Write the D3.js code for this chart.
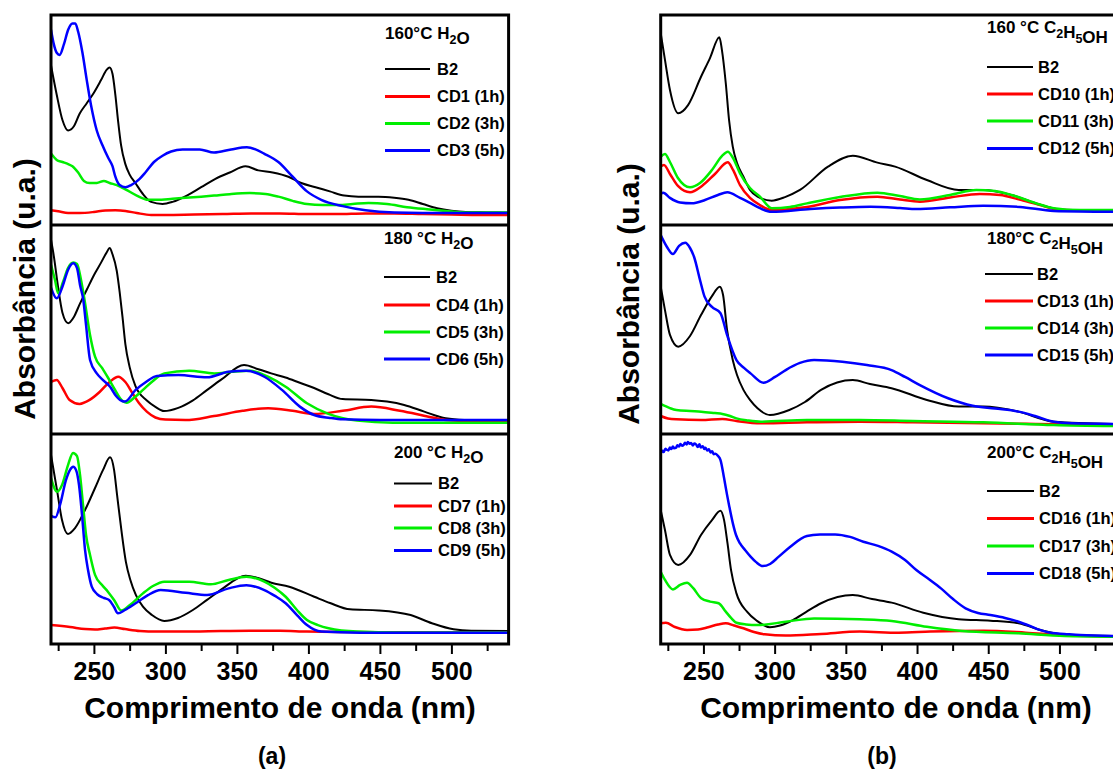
<!DOCTYPE html>
<html>
<head>
<meta charset="utf-8">
<script src="https://cdn.jsdelivr.net/npm/d3@7"></script>
<style>
  body { margin: 0; background: #fff; }
  svg { display: block; }
  text { font-family: "Liberation Sans", Arial, Helvetica, sans-serif; font-weight: bold; fill: #000; }
</style>
</head>
<body>
<svg id="chart" width="1113" height="769"></svg>
<script>
// UV-Vis absorbance spectra, [wavelength (nm), absorbance (a.u.)]

// ---- (a) H2O, 160 °C ----
const B2_H2O_160 = [[220,.76],[224,.62],[228,.50],[232,.45],[236,.47],[240,.53],[245,.58],[250,.63],[255,.69],[259,.74],[261,.75],[263,.72],[265,.62],[267,.49],[269,.38],[272,.29],[275,.24],[279,.20],[284,.15],[290,.11],[298,.10],[305,.11],[315,.14],[325,.18],[335,.22],[345,.25],[356,.28],[365,.26],[375,.25],[386,.23],[395,.20],[405,.18],[415,.16],[425,.14],[435,.135],[449,.135],[460,.13],[470,.12],[480,.10],[490,.08],[500,.068],[510,.062],[525,.06],[540,.058]];
const CD1 = [[220,.07],[225,.065],[232,.057],[240,.057],[250,.062],[258,.069],[265,.07],[272,.067],[280,.057],[290,.048],[300,.048],[320,.05],[340,.052],[360,.055],[380,.055],[400,.052],[420,.052],[440,.055],[460,.055],[480,.052],[500,.05],[520,.048],[540,.048]];
const CD2 = [[220,.34],[224,.31],[228,.30],[232,.29],[235,.28],[239,.25],[243,.21],[247,.20],[252,.20],[257,.21],[261,.20],[266,.19],[272,.17],[280,.14],[288,.12],[294,.12],[305,.125],[314,.13],[325,.135],[334,.14],[345,.147],[359,.152],[370,.148],[379,.135],[389,.115],[399,.10],[410,.095],[421,.095],[431,.10],[442,.105],[455,.10],[469,.085],[483,.075],[496,.067],[510,.06],[540,.06]];
const CD3 = [[220,.93],[222,.86],[224,.82],[226,.81],[229,.86],[232,.93],[235,.96],[237,.96],[239,.92],[242,.82],[245,.69],[248,.57],[252,.45],[256,.38],[260,.32],[263,.28],[265,.23],[268,.19],[272,.18],[276,.19],[282,.22],[286,.25],[292,.30],[298,.33],[304,.35],[312,.36],[324,.36],[334,.345],[346,.36],[357,.37],[363,.36],[369,.34],[379,.30],[389,.23],[399,.16],[409,.12],[424,.09],[440,.07],[460,.06],[500,.057],[540,.057]];

// ---- (a) H2O, 180 °C ----
const B2_H2O_180 = [[220,.93],[222,.85],[225,.70],[228,.58],[232,.53],[236,.56],[240,.62],[245,.69],[250,.76],[255,.82],[259,.87],[261,.89],[263,.86],[266,.78],[268,.68],[270,.56],[272,.43],[275,.32],[279,.23],[287,.16],[293,.13],[299,.11],[309,.125],[319,.16],[329,.21],[339,.26],[355,.33],[365,.31],[374,.29],[384,.27],[394,.245],[404,.22],[414,.19],[424,.167],[444,.163],[455,.155],[467,.139],[481,.107],[496,.075],[509,.067],[540,.064]];
const CD4 = [[220,.25],[224,.258],[228,.22],[233,.163],[240,.144],[247,.163],[254,.201],[261,.249],[267,.274],[272,.249],[277,.195],[281.5,.148],[287,.107],[293,.079],[300,.069],[314,.067],[334,.086],[354,.111],[372,.123],[389,.111],[404,.096],[424,.111],[444,.131],[464,.111],[484,.083],[496,.067],[509,.062],[540,.059]];
const CD5 = [[220,.81],[222.8,.737],[225,.673],[228.4,.727],[231.9,.794],[235.6,.82],[238.2,.813],[241,.737],[243.8,.627],[247.3,.474],[250.8,.37],[255.7,.316],[260,.268],[264.8,.211],[268.3,.171],[272.9,.15],[278.7,.177],[284.3,.211],[291.3,.254],[299.2,.29],[316.7,.303],[334.2,.29],[346.6,.298],[359.2,.303],[371.7,.274],[384.1,.226],[399,.147],[414,.096],[434,.064],[459,.054],[540,.054]];
const CD6 = [[220,.70],[224,.649],[228.4,.713],[231.9,.785],[235.6,.817],[238.2,.794],[240.3,.713],[242.6,.641],[244.5,.522],[247.3,.354],[252,.29],[256.4,.258],[261.3,.226],[265.5,.182],[268.3,.163],[271.7,.155],[279.2,.211],[286.4,.249],[294.1,.278],[309.2,.282],[329.1,.271],[344.2,.298],[356.6,.303],[369.2,.274],[381.5,.211],[394,.131],[404,.091],[415,.077],[424,.07],[450,.067],[540,.067]];

// ---- (a) H2O, 200 °C ----
const B2_H2O_200 = [[220,.90],[224.2,.733],[227.7,.59],[231.8,.524],[236.8,.552],[243.8,.638],[250.8,.743],[256.4,.829],[261.3,.889],[264.1,.829],[266.2,.71],[269.2,.543],[272.4,.39],[275.5,.305],[279.4,.233],[284.3,.178],[290.6,.138],[299.2,.11],[308.8,.124],[319.2,.162],[329.1,.21],[339.2,.26],[356.2,.325],[364.8,.314],[374.1,.292],[386.6,.273],[404.1,.225],[415.1,.195],[429.1,.165],[449.1,.16],[471.5,.138],[486.4,.099],[501.5,.07],[514,.063],[540,.062]];
const CD7 = [[220,.09],[233.3,.081],[243.8,.071],[250.8,.069],[257.8,.074],[264.3,.078],[271.7,.071],[282.2,.062],[294.1,.059],[324.2,.06],[359.2,.063],[380.1,.063],[399,.059],[429.1,.057],[464,.056],[540,.055]];
const CD8 = [[220,.79],[224.3,.725],[227.7,.757],[231.9,.852],[235.4,.91],[238.2,.895],[240.3,.805],[242.4,.662],[244.5,.519],[247.3,.424],[250.8,.329],[255.7,.281],[259.9,.248],[264.1,.21],[269.2,.159],[275.2,.186],[284.3,.241],[291.3,.276],[299.2,.297],[316.7,.297],[331.7,.284],[344.2,.305],[356.6,.32],[369.2,.297],[376.6,.267],[384.1,.225],[392,.162],[399,.114],[406.7,.09],[414.1,.075],[434,.059],[464,.055],[540,.055]];
const CD9 = [[220,.61],[223.1,.603],[226.3,.662],[230.5,.781],[233.3,.829],[235.5,.844],[237.5,.829],[239.6,.757],[241.7,.614],[243.8,.448],[245.9,.352],[248.5,.273],[252.2,.238],[257.1,.219],[260.6,.21],[264.1,.176],[266.8,.146],[271.7,.162],[279.2,.194],[287.8,.233],[296.7,.257],[314.2,.244],[329.1,.233],[344.2,.265],[356.6,.28],[369.2,.257],[376.6,.229],[384.1,.194],[392,.138],[399,.09],[409.1,.059],[436,.054],[540,.054]];

// ---- (b) C2H5OH, 160 °C ----
const B2_EtOH_160 = [[220,.913],[223,.786],[226.5,.643],[232.3,.532],[239.2,.571],[248.3,.706],[254.6,.795],[261.2,.894],[263,.833],[265.7,.675],[268,.50],[270.6,.373],[273.6,.295],[278.1,.23],[282.7,.167],[288,.135],[297.9,.116],[307.3,.133],[317.8,.167],[337.5,.278],[354.9,.33],[372.2,.297],[384.6,.278],[406.9,.214],[429.2,.167],[446.5,.167],[466.4,.143],[483.7,.103],[501,.074],[518,.071],[540,.069]];
const CD10 = [[220,.278],[222.3,.286],[226.5,.243],[232.1,.186],[240.6,.156],[249,.186],[258.1,.243],[267.1,.299],[270.8,.262],[275.7,.19],[282.7,.129],[289.7,.095],[297.9,.071],[322.7,.086],[345.9,.119],[372.2,.135],[388,.121],[402,.111],[423.2,.131],[444.1,.148],[458.3,.143],[471.3,.122],[486.4,.095],[501,.071],[540,.068]];
const CD11 = [[220,.325],[223,.338],[226.5,.30],[232.1,.224],[240.6,.18],[247.6,.20],[256,.262],[263.1,.329],[267.1,.349],[270.8,.319],[275.7,.246],[282.7,.176],[289.7,.135],[297.9,.08],[310.8,.086],[322.7,.103],[345.9,.133],[372.2,.154],[388,.138],[402,.122],[423.2,.143],[441.6,.167],[454.8,.162],[466.4,.143],[482.9,.105],[496,.08],[514.5,.071],[540,.071]];
const CD12 = [[220,.148],[221.8,.154],[226.5,.129],[233.6,.107],[241.8,.103],[251.1,.119],[260.2,.143],[266.8,.156],[275.7,.129],[282.7,.105],[289.7,.08],[297.9,.063],[325.2,.076],[345.9,.083],[367.3,.087],[388,.081],[399.5,.076],[423.2,.084],[446.5,.092],[472.3,.086],[496,.067],[540,.063]];

// ---- (b) C2H5OH, 180 °C ----
const B2_EtOH_180 = [[220,.705],[223,.593],[226.5,.474],[232.3,.418],[240.6,.469],[248.3,.569],[256,.66],[261.5,.705],[263.8,.665],[266.6,.498],[270.6,.354],[273.6,.282],[278.1,.211],[282.7,.163],[288,.123],[296.7,.091],[310.3,.115],[321.3,.153],[332.6,.211],[354.9,.258],[367,.239],[382.1,.219],[406.9,.163],[429.2,.131],[446.5,.131],[471.3,.107],[496,.059],[540,.048]];
const CD13 = [[220,.086],[225.1,.074],[231,.07],[248.4,.067],[263.3,.072],[273.2,.062],[290.4,.051],[322.7,.056],[359.8,.059],[397,.056],[446.5,.051],[483.5,.048],[540,.043]];
const CD14 = [[220,.144],[226.5,.124],[231,.115],[240.6,.11],[248.4,.107],[258.1,.10],[263.3,.096],[268.7,.086],[273.2,.075],[281.3,.065],[290.4,.059],[322.7,.067],[359.8,.067],[397,.062],[446.5,.056],[496,.043],[540,.038]];
const CD15 = [[220,.952],[224.4,.895],[228.6,.861],[232.9,.90],[237.2,.915],[240.6,.89],[243.4,.848],[247.6,.737],[250.8,.657],[256,.608],[262,.578],[266.6,.474],[273.2,.354],[278.5,.316],[283.1,.29],[292.2,.245],[300.3,.273],[307.8,.306],[317.8,.34],[327.7,.354],[347.5,.346],[364.8,.33],[382.1,.306],[391.6,.273],[402,.234],[421.8,.171],[439.1,.135],[454.8,.122],[471.3,.107],[482.9,.086],[496,.059],[508.5,.051],[540,.048]];

// ---- (b) C2H5OH, 200 °C ----
const B2_EtOH_200 = [[220,.638],[223,.543],[226.5,.424],[232.3,.376],[240.6,.424],[248.3,.519],[256,.59],[262,.635],[264.5,.59],[266.9,.48],[269.4,.352],[273.2,.241],[280.6,.154],[287.6,.11],[296.7,.08],[303.8,.088],[312.8,.114],[322,.152],[332.6,.194],[354.9,.233],[368.4,.214],[382.2,.197],[404.4,.149],[429.2,.118],[451.5,.111],[471.3,.099],[488.6,.063],[506,.043],[540,.038]];
const CD16 = [[220,.099],[223.6,.101],[230,.081],[238.5,.067],[246.2,.069],[253.3,.08],[260.2,.093],[265.7,.099],[271.5,.088],[278.1,.075],[285.5,.057],[293,.046],[307.8,.04],[332.6,.048],[359.8,.059],[387.1,.054],[409.4,.059],[446.5,.063],[476.2,.054],[501,.043],[540,.035]];
const CD17 = [[220,.344],[223,.305],[228.6,.26],[233.6,.281],[238.5,.292],[242.7,.267],[248.4,.218],[254.6,.202],[260.7,.194],[265.7,.154],[269.4,.124],[273.2,.101],[279.9,.093],[288,.09],[307.8,.106],[327.7,.122],[359.8,.118],[382.2,.11],[406.9,.082],[431.7,.062],[471.3,.051],[503.5,.038],[540,.035]];
const CD18 = [[220,.908],[221.2,.92],[222.1,.914],[223.3,.93],[224.2,.925],[225.4,.922],[226.5,.936],[227.3,.928],[228.6,.94],[229.4,.932],[230.8,.935],[231.7,.946],[232.9,.94],[233.8,.952],[235,.944],[236.1,.948],[237,.958],[238.2,.95],[239.1,.962],[240.4,.953],[241.3,.957],[242.6,.945],[243.5,.955],[244.9,.95],[246,.938],[247.2,.951],[248.1,.936],[249.5,.942],[250.6,.929],[251.4,.935],[252.7,.921],[253.8,.927],[255,.912],[256.1,.918],[257.3,.904],[258.5,.906],[260.3,.895],[262,.876],[264.5,.79],[266.6,.71],[268.2,.654],[270.8,.571],[272.9,.519],[275.6,.48],[279.2,.448],[283.1,.416],[287,.39],[291.7,.371],[296.8,.381],[302.9,.416],[310.8,.462],[322.7,.514],[331.9,.521],[342.5,.522],[353,.51],[362.3,.487],[372.6,.467],[382.2,.44],[391.6,.40],[399.5,.352],[409.1,.305],[416.8,.265],[425.3,.214],[434.1,.17],[442.8,.148],[451.5,.138],[461.8,.124],[471.3,.106],[479.3,.086],[486.2,.067],[494.8,.052],[503.5,.048],[514.5,.043],[540,.038]];

// Legend entries and block titles ("_2" marks a subscript digit)
const labels_H2O_160 = ["B2", "CD1 (1h)", "CD2 (3h)", "CD3 (5h)"];
const labels_H2O_180 = ["B2", "CD4 (1h)", "CD5 (3h)", "CD6 (5h)"];
const labels_H2O_200 = ["B2", "CD7 (1h)", "CD8 (3h)", "CD9 (5h)"];
const labels_EtOH_160 = ["B2", "CD10 (1h)", "CD11 (3h)", "CD12 (5h)"];
const labels_EtOH_180 = ["B2", "CD13 (1h)", "CD14 (3h)", "CD15 (5h)"];
const labels_EtOH_200 = ["B2", "CD16 (1h)", "CD17 (3h)", "CD18 (5h)"];
const blockTitles_H2O = ["160°C H_2O", "180 °C H_2O", "200 °C H_2O"];
const blockTitles_EtOH = ["160 °C C_2H_5OH", "180°C C_2H_5OH", "200°C C_2H_5OH"];

const wavelengthDomain = [220, 540];
const majorTicks = [250, 300, 350, 400, 450, 500];
const minorTicks = [225, 275, 325, 375, 425, 475, 525];
const seriesColors = ["#000000", "#ff0000", "#00ee00", "#0000ff"];

// ---- layout ----
const svg = d3.select("#chart");
const rowBands = [[15, 225], [225, 434], [434, 644]];
const plotBottom = 644, plotTop = 15;

const panels = [
  {
    range: [51, 508.6], axisLabelX: 280, letterX: 272, yLabelX: 35, yLabelY: 289, letter: "(a)",
    blocks: [
      { series: [B2_H2O_160, CD1, CD2, CD3], labels: labels_H2O_160, title: blockTitles_H2O[0],
        leg: { tx: 385, ty: 33, x0: 385, x1: 430, lx: 437, rows: [69, 96.5, 123.5, 150.5] } },
      { series: [B2_H2O_180, CD4, CD5, CD6], labels: labels_H2O_180, title: blockTitles_H2O[1],
        leg: { tx: 384, ty: 238.5, x0: 384, x1: 430, lx: 436, rows: [277, 305, 332, 359] } },
      { series: [B2_H2O_200, CD7, CD8, CD9], labels: labels_H2O_200, title: blockTitles_H2O[2],
        leg: { tx: 394, ty: 452, x0: 394, x1: 432, lx: 438, rows: [483.5, 506, 528, 550.5] } }
    ]
  },
  {
    range: [660.7, 1116.4], axisLabelX: 896, letterX: 882, yLabelX: 639, yLabelY: 294, letter: "(b)",
    blocks: [
      { series: [B2_EtOH_160, CD10, CD11, CD12], labels: labels_EtOH_160, title: blockTitles_EtOH[0],
        leg: { tx: 987, ty: 27, x0: 987, x1: 1033, lx: 1038, rows: [67, 94, 121, 148.5] } },
      { series: [B2_EtOH_180, CD13, CD14, CD15], labels: labels_EtOH_180, title: blockTitles_EtOH[1],
        leg: { tx: 987, ty: 238.5, x0: 985, x1: 1033, lx: 1037, rows: [274, 301, 328, 355] } },
      { series: [B2_EtOH_200, CD16, CD17, CD18], labels: labels_EtOH_200, title: blockTitles_EtOH[2],
        leg: { tx: 987, ty: 452, x0: 987, x1: 1034, lx: 1039, rows: [491, 518.5, 546, 573.5] } }
    ]
  }
];

// writes "160 °C C_2H_5OH" with lowered, smaller subscript digits
function richTitle(sel, str) {
  const parts = str.split(/_(\d)/);
  parts.forEach((p, i) => {
    if (!p) return;
    if (i % 2 === 1) {
      sel.append("tspan").attr("font-size", 12.5).attr("dy", 5).text(p);
      sel.append("tspan").attr("font-size", 17).attr("dy", -5).text("");
    } else {
      sel.append("tspan").text(p);
    }
  });
}

panels.forEach((panel, pi) => {
  const x = d3.scaleLinear().domain(wavelengthDomain).range(panel.range);
  const g = svg.append("g");

  panel.blocks.forEach((block, bi) => {
    const [top, bottom] = rowBands[bi];
    const y = d3.scaleLinear().domain([0, 1]).range([bottom, top]);
    const clipId = `clip-${pi}-${bi}`;
    g.append("clipPath").attr("id", clipId)
      .append("rect")
      .attr("x", panel.range[0]).attr("y", top)
      .attr("width", panel.range[1] - panel.range[0]).attr("height", bottom - top);

    const line = d3.line()
      .x(d => x(d[0])).y(d => y(d[1]))
      .curve(d3.curveMonotoneX);

    const lines = g.append("g").attr("clip-path", `url(#${clipId})`);
    block.series.forEach((s, si) => {
      lines.append("path")
        .datum(s)
        .attr("fill", "none")
        .attr("stroke", seriesColors[si])
        .attr("stroke-width", si === 0 ? 2 : 2.5)
        .attr("stroke-linejoin", "round")
        .attr("d", line);
    });

    // legend block
    const L = block.leg;
    const t = g.append("text").attr("x", L.tx).attr("y", L.ty).attr("dy", "0.35em").attr("font-size", 17);
    richTitle(t, block.title);
    block.labels.forEach((lab, li) => {
      g.append("line")
        .attr("x1", L.x0).attr("x2", L.x1)
        .attr("y1", L.rows[li]).attr("y2", L.rows[li])
        .attr("stroke", seriesColors[li])
        .attr("stroke-width", li === 0 ? 2 : 3);
      g.append("text")
        .attr("x", L.lx).attr("y", L.rows[li]).attr("dy", "0.36em")
        .attr("font-size", 16.5).text(lab);
    });
  });

  // frame and row separators
  g.append("rect")
    .attr("x", panel.range[0]).attr("y", plotTop)
    .attr("width", panel.range[1] - panel.range[0]).attr("height", plotBottom - plotTop)
    .attr("fill", "none").attr("stroke", "#000").attr("stroke-width", 3);
  [rowBands[0][1], rowBands[1][1]].forEach(yy => {
    g.append("line")
      .attr("x1", panel.range[0]).attr("x2", panel.range[1])
      .attr("y1", yy).attr("y2", yy)
      .attr("stroke", "#000").attr("stroke-width", 3);
  });

  // bottom axis: major ticks with labels, minor ticks without
  const major = g.append("g").attr("transform", `translate(0,${plotBottom})`)
    .call(d3.axisBottom(x).tickValues(majorTicks).tickSize(10).tickPadding(8).tickFormat(d3.format("d")));
  major.select(".domain").remove();
  major.selectAll(".tick line").attr("stroke", "#000").attr("stroke-width", 2);
  major.selectAll(".tick text").attr("font-size", 25).attr("fill", "#000")
    .attr("font-family", "'Liberation Sans', Arial, sans-serif").attr("font-weight", "bold");

  const minor = g.append("g").attr("transform", `translate(0,${plotBottom})`)
    .call(d3.axisBottom(x).tickValues(minorTicks).tickSize(7).tickFormat(""));
  minor.select(".domain").remove();
  minor.selectAll(".tick line").attr("stroke", "#000").attr("stroke-width", 2);

  // axis titles
  g.append("text")
    .attr("x", panel.axisLabelX).attr("y", 718)
    .attr("text-anchor", "middle").attr("font-size", 30)
    .text("Comprimento de onda (nm)");
  g.append("text")
    .attr("transform", `translate(${panel.yLabelX},${panel.yLabelY}) rotate(-90)`)
    .attr("text-anchor", "middle").attr("font-size", 30)
    .text("Absorbância (u.a.)");
  g.append("text")
    .attr("x", panel.letterX).attr("y", 756).attr("dy", "0.35em")
    .attr("text-anchor", "middle").attr("font-size", 23)
    .text(panel.letter);
});
</script>
</body>
</html>
